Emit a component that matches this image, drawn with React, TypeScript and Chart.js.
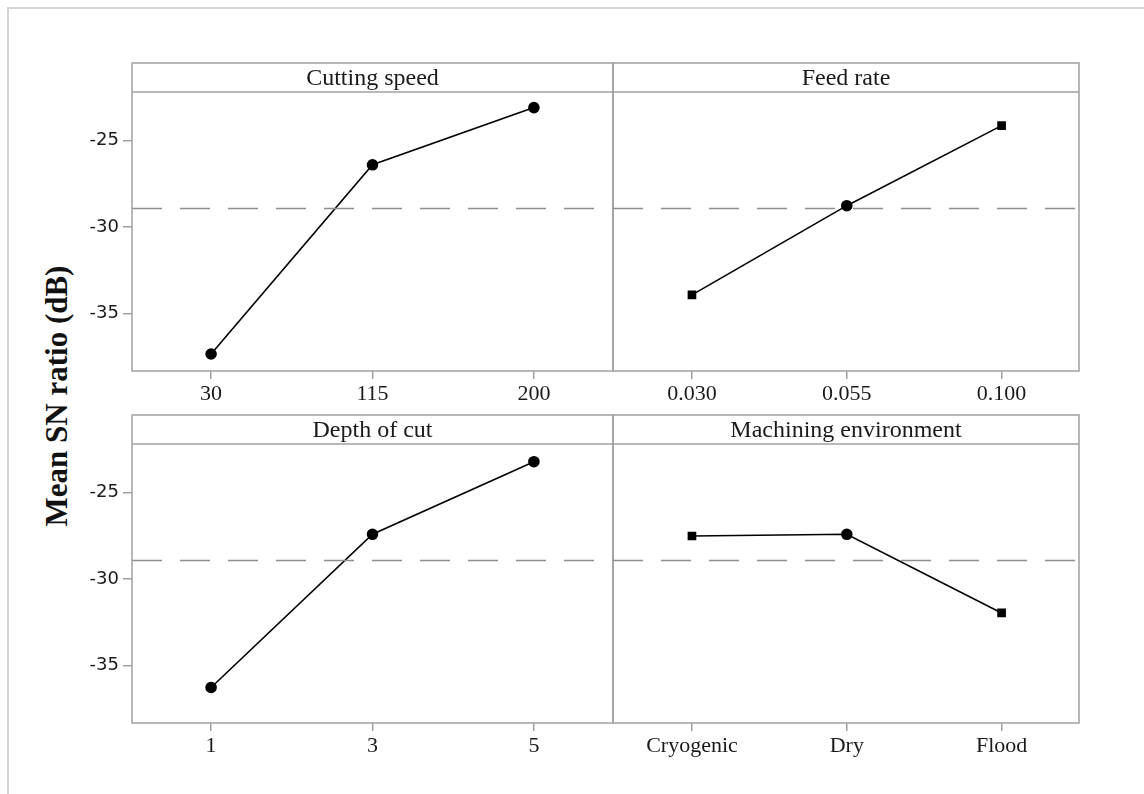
import React, { useEffect, useRef } from 'react';
import { Chart, registerables } from 'chart.js';

Chart.register(...registerables);

// ---- data ----
const cuttingSpeedLevels = ['30', '115', '200'];
const cuttingSpeedSN = [-37.32, -26.4, -23.1];
const feedRateLevels = ['0.030', '0.055', '0.100'];
const feedRateSN = [-33.91, -28.76, -24.14];
const depthLevels = ['1', '3', '5'];
const depthSN = [-36.25, -27.41, -23.22];
const envLevels = ['Cryogenic', 'Dry', 'Flood'];
const envSN = [-27.51, -27.41, -31.95];
const grandMeanSN = -28.92;
const yTickValues = [-35, -30, -25];
const yAxisTitle = 'Mean SN ratio (dB)';

const FRAME = '#a0a0a0';
const TEXT = '#1a1a1a';
const HEADER_H = 29;

const framePlugin = {
  id: 'frame',
  afterDraw(chart: any, _args: any, opts: any) {
    const { ctx, chartArea: a } = chart;
    ctx.save();
    ctx.strokeStyle = FRAME;
    ctx.lineWidth = 1.5;
    ctx.strokeRect(a.left, a.top - HEADER_H, a.right - a.left, a.bottom - a.top + HEADER_H);
    ctx.beginPath();
    ctx.moveTo(a.left, a.top);
    ctx.lineTo(a.right, a.top);
    ctx.stroke();
    ctx.fillStyle = TEXT;
    ctx.font = '24px "Liberation Serif"';
    ctx.textAlign = 'center';
    ctx.textBaseline = 'middle';
    ctx.fillText(opts.title, (a.left + a.right) / 2, a.top - HEADER_H / 2 + 1);
    ctx.restore();
  },
};

type PanelProps = {
  title: string;
  labels: string[];
  values: number[];
  markers: string[];
  area: { l: number; t: number; r: number; b: number };
  showY: boolean;
  xMin: number;
  xMax: number;
};

const Y_W = 132;
const X_H = 42;
const PAD = 2;
const TOP_PAD = 32;

function Panel(p: PanelProps) {
  const ref = useRef<HTMLCanvasElement | null>(null);
  const cx = p.showY ? p.area.l - Y_W : p.area.l - PAD;
  const cy = p.area.t - TOP_PAD;
  const cw = p.area.r + PAD - cx;
  const ch = p.area.b - cy + X_H;

  useEffect(() => {
    if (!ref.current) return;
    const chart = new Chart(ref.current, {
      type: 'line',
      data: {
        datasets: [
          {
            data: [
              { x: p.xMin, y: grandMeanSN },
              { x: p.xMax, y: grandMeanSN },
            ],
            borderColor: '#8e8e8e',
            borderWidth: 1.5,
            borderDash: [30, 18],
            pointRadius: 0,
          },
          {
            data: p.values.map((v, i) => ({ x: i, y: v })),
            borderColor: '#000',
            borderWidth: 1.6,
            pointStyle: p.markers as any,
            pointRadius: 5,
            pointBackgroundColor: '#000',
            pointBorderColor: '#000',
          },
        ],
      },
      options: {
        responsive: false,
        animation: false,
        events: [],
        layout: {
          autoPadding: false,
          padding: { top: TOP_PAD, left: p.showY ? 0 : PAD, right: PAD, bottom: 0 },
        },
        plugins: {
          legend: { display: false },
          tooltip: { enabled: false },
          frame: { title: p.title },
        } as any,
        scales: {
          x: {
            type: 'linear',
            min: p.xMin,
            max: p.xMax,
            afterFit: (s: any) => {
              s.height = X_H;
              s.paddingLeft = 0;
              s.paddingRight = 0;
            },
            afterBuildTicks: (s: any) => {
              s.ticks = p.labels.map((_, i) => ({ value: i }));
            },
            ticks: {
              callback: (v: any) => p.labels[v as number],
              font: { family: '"Liberation Serif"', size: 22 },
              color: TEXT,
              padding: 2,
              maxRotation: 0,
              autoSkip: false,
            },
            grid: {
              display: true,
              drawOnChartArea: false,
              drawTicks: true,
              tickLength: 8,
              color: FRAME,
              lineWidth: 1.5,
            },
            border: { display: false },
          },
          y: {
            type: 'linear',
            display: p.showY,
            min: -38.3,
            max: -22.2,
            afterFit: (s: any) => {
              s.width = p.showY ? Y_W : 0;
              s.paddingTop = 0;
              s.paddingBottom = 0;
            },
            afterBuildTicks: (s: any) => {
              s.ticks = yTickValues.map((v) => ({ value: v }));
            },
            ticks: {
              font: { family: '"DejaVu Sans"', size: 18 },
              color: TEXT,
              padding: 4,
            },
            grid: {
              display: true,
              drawOnChartArea: false,
              drawTicks: true,
              tickLength: 9,
              color: FRAME,
              lineWidth: 1.5,
            },
            border: { display: false },
          },
        },
      },
      plugins: [framePlugin],
    });
    return () => chart.destroy();
  }, []);

  return (
    <canvas
      ref={ref}
      width={cw}
      height={ch}
      style={{ position: 'absolute', left: cx, top: cy, width: cw, height: ch }}
    />
  );
}

export default function App() {
  return (
    <div
      style={{
        position: 'absolute',
        left: 0,
        top: 0,
        width: 1144,
        height: 794,
        background: '#fff',
        overflow: 'hidden',
      }}
    >
      <div
        style={{
          position: 'absolute',
          left: 7,
          top: 7,
          width: 1140,
          height: 800,
          borderLeft: '2px solid #d4d4d4',
          borderTop: '2px solid #d4d4d4',
        }}
      />
      <div
        style={{
          position: 'absolute',
          left: 57,
          top: 396,
          transform: 'translate(-50%, -50%) rotate(-90deg)',
          whiteSpace: 'nowrap',
          font: 'bold 31px "Liberation Serif"',
          color: '#111',
        }}
      >
        {yAxisTitle}
      </div>
      <Panel
        title="Cutting speed"
        labels={cuttingSpeedLevels}
        values={cuttingSpeedSN}
        markers={['circle', 'circle', 'circle']}
        area={{ l: 132, t: 92, r: 613, b: 371 }}
        showY={true}
        xMin={-0.49}
        xMax={2.49}
      />
      <Panel
        title="Feed rate"
        labels={feedRateLevels}
        values={feedRateSN}
        markers={['rect', 'circle', 'rect']}
        area={{ l: 613, t: 92, r: 1079, b: 371 }}
        showY={false}
        xMin={-0.51}
        xMax={2.5}
      />
      <Panel
        title="Depth of cut"
        labels={depthLevels}
        values={depthSN}
        markers={['circle', 'circle', 'circle']}
        area={{ l: 132, t: 444, r: 613, b: 723 }}
        showY={true}
        xMin={-0.49}
        xMax={2.49}
      />
      <Panel
        title="Machining environment"
        labels={envLevels}
        values={envSN}
        markers={['rect', 'circle', 'rect']}
        area={{ l: 613, t: 444, r: 1079, b: 723 }}
        showY={false}
        xMin={-0.51}
        xMax={2.5}
      />
    </div>
  );
}
